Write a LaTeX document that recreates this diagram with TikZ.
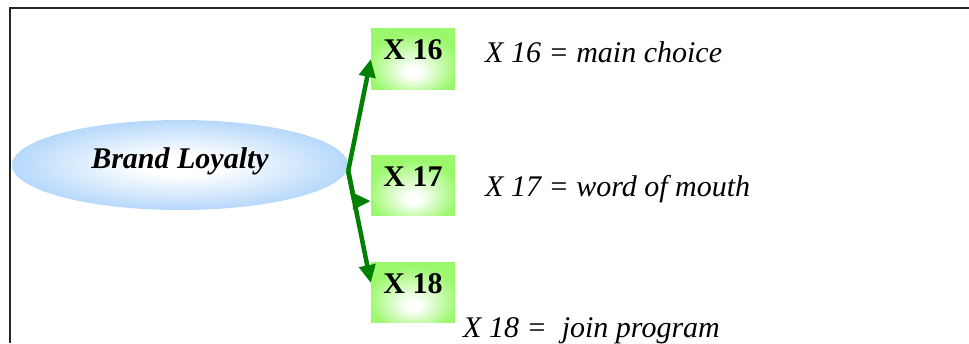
\documentclass[tikz,border=0pt]{standalone}
\usepackage{fontspec}
\setmainfont{Liberation Serif}
\usetikzlibrary{arrows.meta,shapes.geometric,calc}

\definecolor{loyaltyblue}{RGB}{155,202,250}
\definecolor{itemgreen}{RGB}{155,248,108}
\definecolor{linkgreen}{RGB}{0,128,0}

% soft glows: white middle, colour at the rim
\pgfdeclareradialshading{blueglow}{\pgfpoint{0bp}{0bp}}{%
  color(0bp)=(white); color(6bp)=(white); color(32bp)=(loyaltyblue); color(50bp)=(loyaltyblue)}
\pgfdeclareradialshading{greenglow}{\pgfpoint{0bp}{-12bp}}{%
  color(0bp)=(white); color(4bp)=(white); color(27bp)=(itemgreen); color(50bp)=(itemgreen)}

\begin{document}
\begin{tikzpicture}[x=1pt, y=-1pt,
  every node/.style={font=\fontsize{30}{36}\selectfont},
  factor/.style={ellipse, shade, shading=blueglow, inner sep=0pt,
    minimum width=336pt, minimum height=90pt, text height=20pt, text depth=14pt,
    font=\fontsize{30}{36}\selectfont\bfseries\itshape},
  item/.style={rectangle, shade, shading=greenglow, inner sep=0pt,
    minimum width=84pt, text height=31pt, text depth=29.5pt,
    font=\fontsize{30}{36}\selectfont\bfseries},
  note/.style={anchor=base west, inner sep=0pt, font=\fontsize{30}{36}\selectfont\itshape},
  link/.style={draw=linkgreen, line width=4.5pt, -{Triangle[length=18pt,width=16pt]}}]
  \useasboundingbox (0,0) rectangle (969,343);

  % frame (top and left only)
  \draw[line width=2pt, black!85] (10,343) -- (10,8) -- (969,8);

  % === Left: the factor ===
  \node[factor] (loyalty) at (180,165) {Brand Loyalty};

  % === Right: its three items ===
  \node[item] (x16) at (413,59)    {X 16};
  \node[item] (x17) at (413,185.5) {X 17};
  \node[item] (x18) at (413,292.5) {X 18};

  \node[note] (n16) at (485,62)  {X 16 = main choice};
  \node[note] (n17) at (485,196) {X 17 = word of mouth};
  \node[note] (n18) at (463,337) {X 18 =\ \ join program};

  % arrows leave from one fork point
  \coordinate (fork)  at ([yshift=-6pt]loyalty.east);
  \coordinate (in17)  at ([yshift=-46pt]x17.north west);
  \coordinate (in18)  at ([yshift=-21pt]x18.north west);
  \coordinate (bend)  at ($(fork)!0.27!(in18)$);

  \draw[link] (fork) -- (x16.west);
  \draw[link] (fork) -- (bend) -- (in17);
  \draw[link] (fork) -- (in18);
\end{tikzpicture}
\end{document}
